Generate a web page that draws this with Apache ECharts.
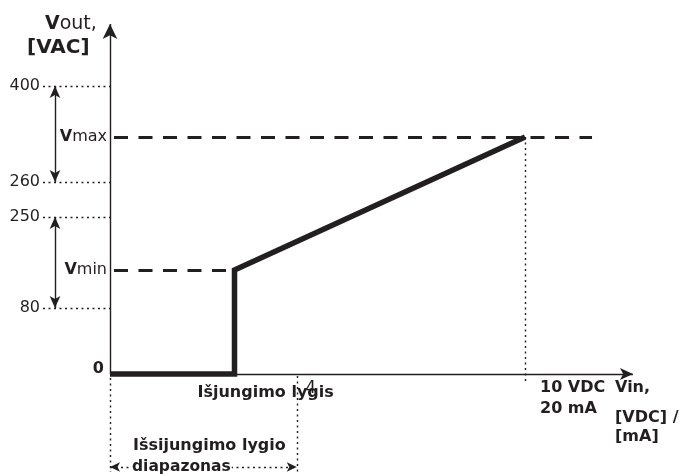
<!DOCTYPE html>
<html><head><meta charset="utf-8">
<script src="https://cdn.jsdelivr.net/npm/echarts@6/dist/echarts.min.js"></script>
<style>html,body{margin:0;padding:0;background:#fff}#c{width:684px;height:476px}</style>
</head><body><div id="c"></div>
<script>
// ---------- data (schematic: output levels are drawing positions, not to scale) ----------
const yTickLevels = [288, 192, 157, 66];
const yTickLabels = ['400', '260', '250', '80'];
const curveVin  = [0, 3, 3, 10];
const curveVout = [0, 0, 104, 237];
const vMinLevel = 104;
const vMaxLevel = 237;
const vinFull = 10;          // 10 VDC / 20 mA
const offRangeEnd = 4.5;     // end of switch-off range, marked "4"
const vmaxSpan = [288, 192]; // 400 .. 260
const vminSpan = [157, 66];  // 250 .. 80
const xAxisEnd = 12.6;
const yAxisEnd = 350;

// ---------- scale / helpers ----------
const X_MIN = -2.65, X_MAX = 13.83, Y_MIN = -102, Y_MAX = 374;
const PX = 684 / (X_MAX - X_MIN);           // pixels per x unit
const dx = p => p / PX;                      // pixel offset -> x units
const INK = '#231f20';
const FONT = '"DejaVu Sans", Verdana, sans-serif';

const dotted = { color: INK, width: 1.4, type: [2, 3.5] };
const dashed = { color: INK, width: 3, type: [14, 10.5] };
const thin   = { color: INK, width: 1.4, type: 'solid' };

function seg(a, b, style, s1, s2, size) {
  return [
    { coord: a, symbol: s1 || 'none', symbolSize: size || 10, lineStyle: style },
    { coord: b, symbol: s2 || 'none', symbolSize: size || 10 }
  ];
}

const tickStart = dx(43 - 110);
const lines = [];
yTickLevels.forEach(v => lines.push(seg([tickStart, v], [0, v], dotted)));
lines.push(seg([dx(4), vMaxLevel], [vinFull + dx(67), vMaxLevel], dashed));
lines.push(seg([dx(4), vMinLevel], [curveVin[1], vMinLevel], dashed));
lines.push(seg([vinFull, vMaxLevel], [vinFull, -7], dotted));
lines.push(seg([0, -4], [0, -98], dotted));
lines.push(seg([offRangeEnd, -2], [offRangeEnd, -98], dotted));
const arrowX = dx(-55);
lines.push(seg([arrowX, vmaxSpan[0]], [arrowX, vmaxSpan[1]], thin, 'arrow', 'arrow', [8, 12]));
lines.push(seg([arrowX, vminSpan[0]], [arrowX, vminSpan[1]], thin, 'arrow', 'arrow', [8, 12]));
lines.push(seg([0, -93], [offRangeEnd, -93], dotted, 'arrow', 'arrow', [7, 10]));
lines.push(seg([0, 0], [0, yAxisEnd], thin, 'none', 'arrow', [11, 15]));
lines.push(seg([0, 0], [xAxisEnd, 0], thin, 'none', 'arrow', [9, 13]));

function txt(x, y, text, o) {
  o = o || {};
  const fs = o.fontSize || 16;
  return {
    value: [x, y],
    label: Object.assign({
      show: true, position: [0, 0], formatter: text,
      align: 'left', verticalAlign: 'middle',
      fontFamily: FONT, fontSize: 16, fontWeight: 'bold', color: INK,
      textBorderWidth: 0, opacity: 1,
      rich: {
        b: { fontFamily: FONT, fontSize: fs, fontWeight: 'bold', color: INK },
        n: { fontFamily: FONT, fontSize: fs, fontWeight: 'normal', color: INK }
      }
    }, o)
  };
}

const texts = [];
yTickLevels.forEach((v, i) => texts.push(txt(dx(40 - 110), v, yTickLabels[i], { align: 'right', fontSize: 16, fontWeight: 'normal' })));
texts.push(txt(dx(-3), vMaxLevel, '{b|V}{n|max}', { align: 'right' }));
texts.push(txt(dx(-3), vMinLevel, '{b|V}{n|min}', { align: 'right' }));
texts.push(txt(dx(-6), 5, '0', { align: 'right', fontSize: 16 }));
texts.push(txt(dx(45 - 110), 350, '{b|V}{n|out,}', { fontSize: 19 }));
texts.push(txt(dx(27 - 110), 326, '[VAC]', { fontSize: 20 }));
texts.push(txt(curveVin[1] - dx(37), -19, 'Išjungimo lygis'));
texts.push(txt(offRangeEnd + dx(14), -15, '4', { align: 'center', fontWeight: 'normal', fontSize: 17 }));
texts.push(txt(dx(23), -72, 'Išsijungimo lygio'));
texts.push(txt(dx(21), -93, 'diapazonas', { fontSize: 15.5, backgroundColor: '#fff', padding: [0, 1] }));
texts.push(txt(vinFull + dx(15), -14, '10 VDC'));
texts.push(txt(vinFull + dx(15), -35, '20 mA'));
texts.push(txt(vinFull + dx(90), -14, 'Vin,'));
texts.push(txt(vinFull + dx(90), -44, '[VDC] /'));
texts.push(txt(vinFull + dx(90), -63, '[mA]'));

const chart = echarts.init(document.getElementById('c'), null, { renderer: 'canvas' });
chart.setOption({
  animation: false,
  backgroundColor: '#fff',
  grid: { left: 0, right: 0, top: 0, bottom: 0 },
  xAxis: { type: 'value', min: X_MIN, max: X_MAX, show: false },
  yAxis: { type: 'value', min: Y_MIN, max: Y_MAX, show: false },
  series: [
    {
      type: 'line', name: 'guides', data: [], silent: true,
      markLine: { silent: true, animation: false, label: { show: false }, emphasis: { disabled: true }, data: lines }
    },
    {
      type: 'line', name: 'Vout', silent: true, symbol: 'none', clip: false,
      data: curveVin.map((x, i) => [x, curveVout[i]]),
      lineStyle: { color: INK, width: 5.5, join: 'miter', cap: 'butt' }, z: 5
    },
    {
      type: 'scatter', name: 'labels', silent: true, symbolSize: 0, z: 6,
      itemStyle: { color: 'rgba(0,0,0,0)', opacity: 1 },
      data: texts
    }
  ]
});
</script></body></html>
